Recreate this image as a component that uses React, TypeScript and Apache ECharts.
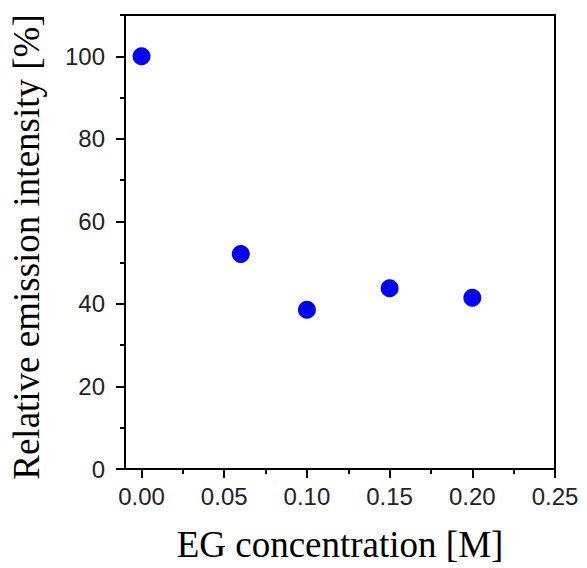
import React, { useEffect, useRef } from "react";
import * as echarts from "echarts";

const xValues = [0.0, 0.06, 0.1, 0.15, 0.2];
const yValues = [100, 52.1, 38.6, 43.8, 41.5];
const xTicks = [0, 0.05, 0.1, 0.15, 0.2, 0.25];
const xMinorTicks = [0.025, 0.075, 0.125, 0.175, 0.225];
const yTicks = [0, 20, 40, 60, 80, 100];
const yMinorTicks = [10, 30, 50, 70, 90, 110];
const xTitle = "EG concentration [M]";
const yTitle = "Relative emission intensity [%]";

export default function App() {
  const ref = useRef<HTMLDivElement>(null);
  useEffect(() => {
    document.body.style.margin = "0";
    const chart = echarts.init(ref.current!, null, { renderer: "svg" });
    const data = xValues.map((x, i) => [x, yValues[i]]);
    const line = { show: true, onZero: false, lineStyle: { color: "#000", width: 2 } };
    const tickStyle = { color: "#000", width: 2 };
    chart.setOption({
      animation: false,
      backgroundColor: "#ffffff",
      grid: {
        left: 120,
        top: 15,
        right: 32,
        bottom: 93,
        show: true,
        borderColor: "#000",
        borderWidth: 2,
        backgroundColor: "transparent",
      },
      xAxis: [
        {
          type: "value",
          min: -0.01,
          max: 0.25,
          name: xTitle,
          nameLocation: "middle",
          nameGap: 57,
          nameTextStyle: { fontFamily: "Liberation Serif", fontSize: 37, color: "#000" },
          axisLine: line,
          axisTick: { show: true, inside: false, length: 9, lineStyle: tickStyle, customValues: xTicks },
          splitLine: { show: false },
          axisLabel: {
            fontFamily: "Liberation Sans",
            fontSize: 24,
            color: "#222",
            margin: 15,
            customValues: xTicks,
            formatter: (v: number) => v.toFixed(2),
          },
        },
        {
          type: "value",
          position: "bottom",
          min: -0.01,
          max: 0.25,
          axisLine: { show: false, onZero: false },
          axisTick: { show: true, inside: false, length: 5, lineStyle: tickStyle, customValues: xMinorTicks },
          axisLabel: { show: false },
          splitLine: { show: false },
        },
      ],
      yAxis: [
        {
          type: "value",
          min: 0,
          max: 110,
          name: yTitle,
          nameLocation: "middle",
          nameGap: 80,
          nameTextStyle: {
            fontFamily: "Liberation Serif",
            fontSize: 37,
            color: "#000",
            padding: [0, 10, 0, 0],
          },
          axisLine: line,
          axisTick: { show: true, inside: false, length: 9, lineStyle: tickStyle, customValues: yTicks },
          splitLine: { show: false },
          axisLabel: {
            fontFamily: "Liberation Sans",
            fontSize: 24,
            color: "#222",
            margin: 20,
            customValues: yTicks,
          },
        },
        {
          type: "value",
          position: "left",
          min: 0,
          max: 110,
          axisLine: { show: false, onZero: false },
          axisTick: { show: true, inside: false, length: 5, lineStyle: tickStyle, customValues: yMinorTicks },
          axisLabel: { show: false },
          splitLine: { show: false },
        },
      ],
      series: [
        {
          type: "scatter",
          data,
          symbol: "circle",
          symbolSize: 18,
          itemStyle: { color: "#0000ff", opacity: 1 },
        },
      ],
    });
    return () => chart.dispose();
  }, []);
  return (
    <div
      ref={ref}
      style={{ position: "absolute", left: 0, top: 0, width: 587, height: 568 }}
    />
  );
}
